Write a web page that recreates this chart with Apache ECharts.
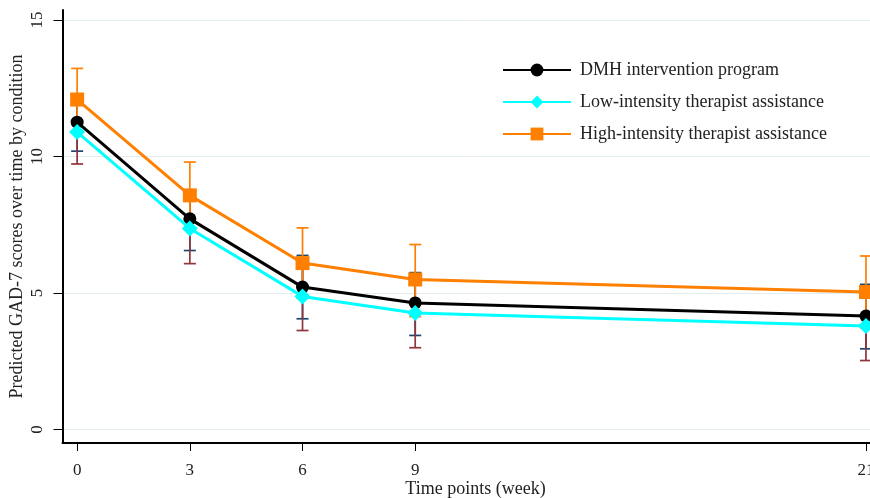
<!DOCTYPE html>
<html><head><meta charset="utf-8">
<script src="https://cdn.jsdelivr.net/npm/echarts@6/dist/echarts.min.js"></script>
<style>html,body{margin:0;padding:0;background:#fff}#c{width:870px;height:498px}</style>
</head><body><div id="c"></div>
<script>
const weeks = [0, 3, 6, 9, 21];
const xTickLabels = [0, 3, 6, 9, 21];
const yTickLabels = [0, 5, 10, 15];
const names = ['DMH intervention program', 'Low-intensity therapist assistance', 'High-intensity therapist assistance'];
const dmhMean = [11.26, 7.72, 5.22, 4.64, 4.16];
const dmhLower = [10.2, 6.56, 4.06, 3.45, 2.96];
const dmhUpper = [12.3, 8.76, 6.38, 5.75, 5.32];
const lowMean = [10.9, 7.37, 4.88, 4.27, 3.8];
const lowLower = [9.73, 6.08, 3.63, 3.0, 2.53];
const lowUpper = [12.07, 8.66, 6.13, 5.54, 5.07];
const highMean = [12.09, 8.58, 6.1, 5.5, 5.04];
const highLower = [10.95, 7.36, 4.81, 4.14, 3.72];
const highUpper = [13.23, 9.8, 7.39, 6.78, 6.36];

const FONT = '"Liberation Serif", "Times New Roman", serif';
const chart = echarts.init(document.getElementById('c'));

function errSeries(lo, hi, color) {
  return {
    type: 'custom',
    silent: true,
    z: 1,
    clip: false,
    data: weeks.map((w, i) => [w, lo[i], hi[i]]),
    encode: { x: 0, y: [1, 2] },
    renderItem: function (params, api) {
      const x = api.value(0);
      const a = api.coord([x, api.value(1)]);
      const b = api.coord([x, api.value(2)]);
      const w = 6;
      const st = { stroke: color, lineWidth: 1.7 };
      return { type: 'group', children: [
        { type: 'line', shape: { x1: a[0], y1: a[1], x2: b[0], y2: b[1] }, style: st },
        { type: 'line', shape: { x1: a[0] - w, y1: a[1], x2: a[0] + w, y2: a[1] }, style: st },
        { type: 'line', shape: { x1: b[0] - w, y1: b[1], x2: b[0] + w, y2: b[1] }, style: st }
      ]};
    }
  };
}
function lineSeries(name, mean, color, symbol, size, z) {
  return {
    name: name, type: 'line', z: z,
    data: weeks.map((w, i) => [w, mean[i]]),
    symbol: symbol, symbolSize: size,
    itemStyle: { color: color },
    lineStyle: { color: color, width: 3 }
  };
}

chart.setOption({
  animation: false,
  backgroundColor: '#fff',
  grid: { left: 62.5, width: 826, top: 10, bottom: 55, containLabel: false, outerBoundsMode: 'none' },
  legend: {
    orient: 'vertical', left: 497, top: 56,
    itemWidth: 68, itemHeight: 16, itemGap: 14,
    data: names,
    textStyle: { fontFamily: FONT, fontSize: 18, color: '#222', padding: [0, 0, 0, 4] }
  },
  xAxis: {
    type: 'value', min: -0.39, max: 21.6,
    axisLine: { onZero: false, lineStyle: { color: '#000', width: 2 } },
    axisTick: { show: true, length: 8, lineStyle: { color: '#000', width: 1 }, customValues: xTickLabels },
    axisLabel: { customValues: xTickLabels, fontFamily: FONT, fontSize: 17, color: '#222', margin: 19 },
    splitLine: { show: false },
    name: 'Time points (week)', nameLocation: 'middle', nameGap: 37, nameMoveOverlap: false,
    nameTextStyle: { fontFamily: FONT, fontSize: 18, color: '#222' }
  },
  yAxis: {
    type: 'value', min: -0.49, max: 15.37,
    axisLine: { show: true, onZero: false, lineStyle: { color: '#000', width: 2 } },
    axisTick: { show: true, length: 9, lineStyle: { color: '#000', width: 1 }, customValues: yTickLabels },
    axisLabel: { customValues: yTickLabels, rotate: 90, fontFamily: FONT, fontSize: 17, color: '#222', margin: 16.5 },
    splitLine: { show: true, lineStyle: { color: '#e3edf0', width: 1 } },
    name: 'Predicted GAD-7 scores over time by condition', nameLocation: 'middle', nameGap: 36, nameMoveOverlap: false,
    nameTextStyle: { fontFamily: FONT, fontSize: 18, color: '#222' }
  },
  series: [
    errSeries(dmhLower, dmhUpper, '#1a476f'),
    errSeries(lowLower, lowUpper, '#90353b'),
    errSeries(highLower, highUpper, '#ff8000'),
    lineSeries(names[0], dmhMean, '#000000', 'circle', 13, 3),
    lineSeries(names[1], lowMean, '#00ffff', 'diamond', 16, 4),
    lineSeries(names[2], highMean, '#ff8000', 'rect', 14, 5)
  ]
});
</script></body></html>
